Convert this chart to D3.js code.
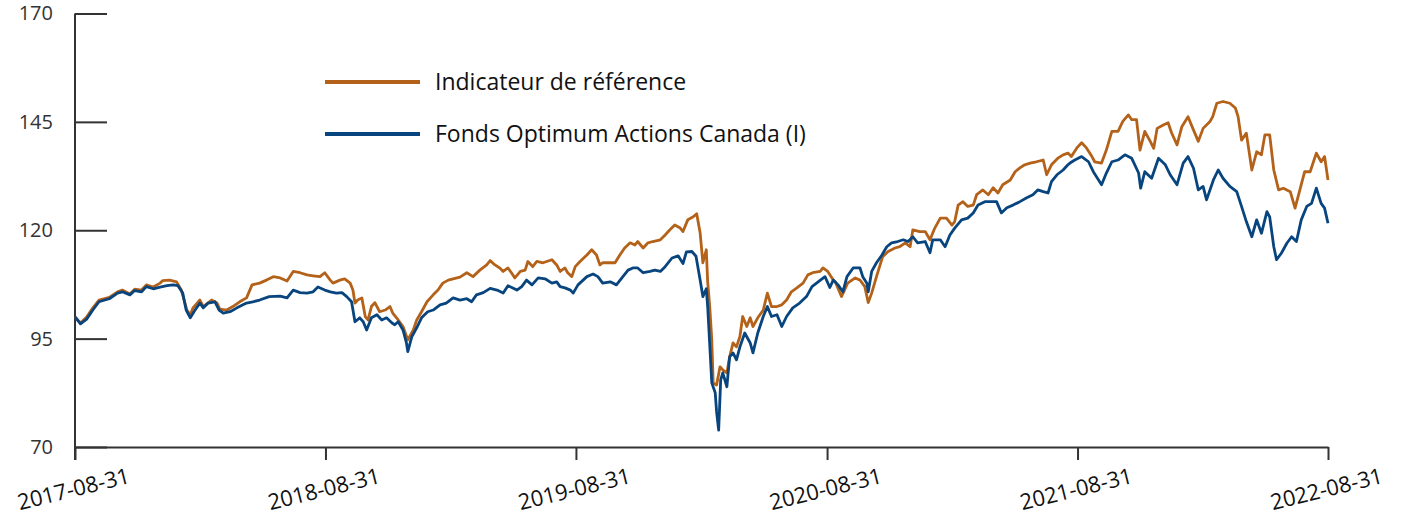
<!DOCTYPE html>
<html>
<head>
<meta charset="utf-8">
<script src="https://cdn.jsdelivr.net/npm/d3@7"></script>
<style>
  body { margin: 0; background: #fff; }
</style>
</head>
<body>
<div id="chart"></div>
<script>
const seriesNames = ["Indicateur de référence", "Fonds Optimum Actions Canada (I)"];

// benchmark index, growth of 100
const benchmark = [
  ["2017-08-31",100.0],["2017-09-08",98.6],["2017-09-17",100.0],["2017-09-26",102.1],["2017-10-05",103.9],
  ["2017-10-20",104.5],["2017-11-01",105.8],["2017-11-08",106.2],["2017-11-19",105.3],["2017-11-26",106.4],
  ["2017-12-06",106.2],["2017-12-13",107.4],["2017-12-23",106.9],["2018-01-02",107.8],["2018-01-06",108.4],
  ["2018-01-16",108.5],["2018-01-26",108.1],["2018-02-02",106.2],["2018-02-10",101.6],["2018-02-15",100.5],
  ["2018-02-19",102.1],["2018-03-01",103.9],["2018-03-06",102.4],["2018-03-18",103.9],["2018-03-26",103.2],
  ["2018-03-30",101.8],["2018-04-09",101.6],["2018-04-18",102.4],["2018-04-28",103.5],["2018-05-08",104.4],
  ["2018-05-16",107.4],["2018-05-27",107.8],["2018-06-06",108.5],["2018-06-16",109.3],["2018-06-26",109.0],
  ["2018-07-06",108.3],["2018-07-15",110.5],["2018-07-25",110.2],["2018-08-04",109.7],["2018-08-13",109.5],
  ["2018-08-23",109.3],["2018-08-30",110.2],["2018-09-07",108.5],["2018-09-11",107.8],["2018-09-21",108.5],
  ["2018-09-28",108.8],["2018-10-06",107.8],["2018-10-10",106.2],["2018-10-13",103.2],["2018-10-17",103.9],
  ["2018-10-23",104.4],["2018-10-28",100.1],["2018-11-01",99.3],["2018-11-06",102.4],["2018-11-11",103.3],
  ["2018-11-18",101.2],["2018-11-26",101.6],["2018-12-03",102.4],["2018-12-07",100.9],["2018-12-15",99.3],
  ["2018-12-22",97.8],["2018-12-29",94.7],["2019-01-06",97.0],["2019-01-11",99.3],["2019-01-18",101.2],
  ["2019-01-26",103.5],["2019-02-04",105.1],["2019-02-11",106.2],["2019-02-18",107.8],["2019-02-26",108.5],
  ["2019-03-05",108.8],["2019-03-15",109.2],["2019-03-25",110.2],["2019-04-03",109.3],["2019-04-13",110.8],
  ["2019-04-23",112.0],["2019-04-28",113.0],["2019-05-05",112.0],["2019-05-12",111.3],["2019-05-17",110.5],
  ["2019-05-24",111.3],["2019-05-29",110.2],["2019-06-03",109.0],["2019-06-11",110.5],["2019-06-18",110.8],
  ["2019-06-22",112.8],["2019-06-29",111.6],["2019-07-05",112.8],["2019-07-14",112.5],["2019-07-27",113.2],
  ["2019-08-03",112.0],["2019-08-08",110.5],["2019-08-15",111.3],["2019-08-19",110.2],["2019-08-25",109.3],
  ["2019-08-30",111.6],["2019-09-06",112.8],["2019-09-16",114.3],["2019-09-23",115.5],["2019-09-30",114.3],
  ["2019-10-05",112.0],["2019-10-09",112.5],["2019-10-17",112.5],["2019-10-27",112.5],["2019-11-03",114.3],
  ["2019-11-10",115.9],["2019-11-18",117.1],["2019-11-25",116.6],["2019-11-29",117.4],["2019-12-07",115.9],
  ["2019-12-14",117.1],["2019-12-21",117.4],["2020-01-01",117.8],["2020-01-08",118.9],["2020-01-15",120.1],
  ["2020-01-22",121.2],["2020-01-30",120.5],["2020-02-03",119.7],["2020-02-10",122.4],["2020-02-18",123.1],
  ["2020-02-23",123.8],["2020-02-28",119.4],["2020-03-03",112.5],["2020-03-08",115.5],["2020-03-10",108.1],
  ["2020-03-13",102.4],["2020-03-16",94.7],["2020-03-18",84.8],["2020-03-23",84.3],["2020-03-28",88.5],
  ["2020-04-01",87.8],["2020-04-07",87.1],["2020-04-11",90.8],["2020-04-16",94.0],["2020-04-21",93.1],
  ["2020-04-26",95.5],["2020-04-30",100.1],["2020-05-06",97.8],["2020-05-11",99.8],["2020-05-15",97.8],
  ["2020-05-22",99.8],["2020-05-30",101.6],["2020-06-05",105.5],["2020-06-11",102.4],["2020-06-19",102.4],
  ["2020-06-26",102.8],["2020-07-03",103.9],["2020-07-10",105.8],["2020-07-18",106.7],["2020-07-27",107.8],
  ["2020-08-03",109.7],["2020-08-10",110.2],["2020-08-21",110.5],["2020-08-25",111.3],["2020-09-01",110.5],
  ["2020-09-09",108.5],["2020-09-12",108.1],["2020-09-21",104.7],["2020-09-30",107.8],["2020-10-11",109.0],
  ["2020-10-18",108.5],["2020-10-25",107.0],["2020-10-30",103.3],["2020-11-04",105.5],["2020-11-11",109.3],
  ["2020-11-20",113.9],["2020-11-28",115.1],["2020-12-08",115.9],["2020-12-15",116.2],["2020-12-23",117.1],
  ["2020-12-30",116.2],["2021-01-03",120.1],["2021-01-13",119.7],["2021-01-21",119.7],["2021-01-28",117.8],
  ["2021-02-04",120.5],["2021-02-12",122.8],["2021-02-21",122.8],["2021-03-01",121.2],["2021-03-05",122.0],
  ["2021-03-10",125.8],["2021-03-17",126.6],["2021-03-24",125.5],["2021-04-01",125.8],["2021-04-06",128.2],
  ["2021-04-15",129.3],["2021-04-23",128.2],["2021-04-30",129.8],["2021-05-07",128.6],["2021-05-14",130.5],
  ["2021-05-25",131.6],["2021-06-01",133.5],["2021-06-08",134.4],["2021-06-15",135.1],["2021-06-23",135.5],
  ["2021-07-02",135.8],["2021-07-12",136.2],["2021-07-17",132.8],["2021-07-24",135.1],["2021-08-03",136.7],
  ["2021-08-10",137.4],["2021-08-17",137.8],["2021-08-22",137.0],["2021-08-30",139.0],["2021-09-06",140.2],
  ["2021-09-13",139.0],["2021-09-21",137.0],["2021-09-25",135.8],["2021-10-05",135.5],["2021-10-12",138.5],
  ["2021-10-20",142.8],["2021-10-29",142.8],["2021-11-05",145.1],["2021-11-13",146.6],["2021-11-18",145.5],
  ["2021-11-25",145.5],["2021-11-30",138.5],["2021-12-07",142.8],["2021-12-15",140.5],["2021-12-20",138.9],
  ["2021-12-25",143.5],["2022-01-03",144.3],["2022-01-10",144.8],["2022-01-15",142.5],["2022-01-23",139.7],
  ["2022-01-30",143.9],["2022-02-08",146.2],["2022-02-15",143.5],["2022-02-23",140.5],["2022-03-02",143.5],
  ["2022-03-12",145.1],["2022-03-16",146.2],["2022-03-22",149.3],["2022-03-31",149.7],["2022-04-10",149.3],
  ["2022-04-18",148.2],["2022-04-22",146.2],["2022-04-27",140.8],["2022-05-04",142.4],["2022-05-12",133.9],
  ["2022-05-19",138.1],["2022-05-26",137.4],["2022-05-31",142.0],["2022-06-07",142.0],["2022-06-13",133.9],
  ["2022-06-20",129.3],["2022-06-27",129.7],["2022-07-07",128.9],["2022-07-14",125.1],["2022-07-21",129.3],
  ["2022-07-28",133.5],["2022-08-05",133.5],["2022-08-14",137.8],["2022-08-21",135.8],["2022-08-26",137.0],
  ["2022-08-31",131.6]
];

// fund, growth of 100
const fund = [
  ["2017-08-31",100.0],["2017-09-08",98.4],["2017-09-17",99.5],["2017-09-26",101.6],["2017-10-05",103.5],
  ["2017-10-20",104.2],["2017-11-01",105.5],["2017-11-08",105.8],["2017-11-19",105.1],["2017-11-26",106.1],
  ["2017-12-06",105.8],["2017-12-13",107.0],["2017-12-23",106.5],["2018-01-02",106.9],["2018-01-12",107.2],
  ["2018-01-21",107.4],["2018-01-28",107.2],["2018-02-04",105.5],["2018-02-09",101.6],["2018-02-15",99.8],
  ["2018-02-22",101.6],["2018-03-01",103.2],["2018-03-06",102.1],["2018-03-13",103.2],["2018-03-23",103.5],
  ["2018-03-29",101.6],["2018-04-04",100.9],["2018-04-14",101.2],["2018-04-24",102.1],["2018-05-08",103.2],
  ["2018-05-17",103.5],["2018-05-27",103.9],["2018-06-10",104.7],["2018-06-26",104.8],["2018-07-06",104.4],
  ["2018-07-15",106.2],["2018-07-25",105.6],["2018-08-04",105.5],["2018-08-13",105.8],["2018-08-20",106.9],
  ["2018-08-30",106.2],["2018-09-07",105.8],["2018-09-16",105.5],["2018-09-24",105.6],["2018-10-01",104.7],
  ["2018-10-08",103.5],["2018-10-13",98.9],["2018-10-20",99.8],["2018-10-25",98.9],["2018-10-30",97.0],
  ["2018-11-06",99.8],["2018-11-14",100.5],["2018-11-21",99.3],["2018-11-28",99.8],["2018-12-06",98.6],
  ["2018-12-10",98.2],["2018-12-15",98.9],["2018-12-22",97.0],["2018-12-27",94.0],["2018-12-29",92.0],
  ["2019-01-04",95.5],["2019-01-11",97.5],["2019-01-18",99.8],["2019-01-27",101.2],["2019-02-04",101.6],
  ["2019-02-14",102.8],["2019-02-23",103.2],["2019-03-05",104.4],["2019-03-15",103.9],["2019-03-25",104.2],
  ["2019-04-01",103.5],["2019-04-08",105.1],["2019-04-18",105.6],["2019-04-28",106.6],["2019-05-08",106.2],
  ["2019-05-17",105.5],["2019-05-24",107.2],["2019-05-31",106.7],["2019-06-06",106.2],["2019-06-13",107.0],
  ["2019-06-20",108.5],["2019-06-28",107.4],["2019-07-07",109.0],["2019-07-17",108.8],["2019-07-27",107.8],
  ["2019-08-03",108.1],["2019-08-08",107.0],["2019-08-15",106.7],["2019-08-23",106.2],["2019-08-27",105.5],
  ["2019-09-03",107.4],["2019-09-16",109.3],["2019-09-25",109.9],["2019-10-02",109.3],["2019-10-09",107.8],
  ["2019-10-20",108.1],["2019-10-29",107.4],["2019-11-06",109.0],["2019-11-15",110.8],["2019-11-22",111.3],
  ["2019-11-29",111.3],["2019-12-07",110.2],["2019-12-17",110.5],["2019-12-24",110.8],["2020-01-01",110.5],
  ["2020-01-08",111.6],["2020-01-18",113.6],["2020-01-27",114.1],["2020-02-03",112.3],["2020-02-08",115.0],
  ["2020-02-16",115.1],["2020-02-22",114.0],["2020-02-28",108.5],["2020-03-03",104.7],["2020-03-08",106.5],
  ["2020-03-10",102.4],["2020-03-16",84.8],["2020-03-21",82.5],["2020-03-23",78.1],["2020-03-26",73.9],
  ["2020-03-29",85.5],["2020-04-01",87.1],["2020-04-07",83.9],["2020-04-11",90.8],["2020-04-16",91.7],
  ["2020-04-21",90.1],["2020-04-26",93.1],["2020-05-03",96.3],["2020-05-11",94.0],["2020-05-15",91.7],
  ["2020-05-22",96.3],["2020-05-30",100.1],["2020-06-05",102.4],["2020-06-11",100.1],["2020-06-19",100.5],
  ["2020-06-26",97.8],["2020-07-03",100.1],["2020-07-12",102.1],["2020-07-22",103.2],["2020-08-01",104.7],
  ["2020-08-09",107.0],["2020-08-18",108.1],["2020-08-28",109.3],["2020-09-04",106.8],["2020-09-09",108.5],
  ["2020-09-16",107.4],["2020-09-23",105.8],["2020-09-29",109.3],["2020-10-08",111.3],["2020-10-18",111.3],
  ["2020-10-22",109.3],["2020-10-28",107.8],["2020-10-30",105.8],["2020-11-04",110.5],["2020-11-11",112.5],
  ["2020-11-19",114.3],["2020-11-26",116.2],["2020-12-03",117.1],["2020-12-12",117.4],["2020-12-20",117.8],
  ["2020-12-27",117.4],["2021-01-03",118.5],["2021-01-10",117.1],["2021-01-21",117.4],["2021-01-28",114.8],
  ["2021-02-01",117.8],["2021-02-12",117.8],["2021-02-19",116.2],["2021-02-26",118.9],["2021-03-05",120.5],
  ["2021-03-15",122.4],["2021-03-24",122.8],["2021-04-01",124.0],["2021-04-08",125.8],["2021-04-18",126.6],
  ["2021-04-25",126.6],["2021-05-05",126.6],["2021-05-12",124.0],["2021-05-20",125.2],["2021-05-29",125.8],
  ["2021-06-08",126.6],["2021-06-18",127.5],["2021-06-27",128.2],["2021-07-04",129.3],["2021-07-12",128.9],
  ["2021-07-19",128.6],["2021-07-24",131.2],["2021-08-01",132.8],["2021-08-10",133.9],["2021-08-17",135.1],
  ["2021-08-20",135.5],["2021-08-27",136.2],["2021-09-06",137.0],["2021-09-16",135.8],["2021-09-23",133.5],
  ["2021-10-05",130.5],["2021-10-12",133.2],["2021-10-20",135.8],["2021-10-29",136.2],["2021-11-08",137.4],
  ["2021-11-18",136.6],["2021-11-28",133.2],["2021-12-01",129.7],["2021-12-07",133.5],["2021-12-17",132.0],
  ["2021-12-27",136.6],["2022-01-06",135.1],["2022-01-13",132.8],["2022-01-23",130.5],["2022-02-01",135.5],
  ["2022-02-08",137.0],["2022-02-16",134.3],["2022-02-23",129.3],["2022-03-02",130.1],["2022-03-07",127.0],
  ["2022-03-17",131.6],["2022-03-24",133.9],["2022-03-31",132.0],["2022-04-10",130.1],["2022-04-20",128.9],
  ["2022-04-27",125.5],["2022-05-04",122.0],["2022-05-12",118.5],["2022-05-19",122.4],["2022-05-26",119.3],
  ["2022-06-03",124.3],["2022-06-07",123.1],["2022-06-13",116.2],["2022-06-17",113.2],["2022-06-24",114.7],
  ["2022-07-02",117.0],["2022-07-09",118.5],["2022-07-16",117.4],["2022-07-23",122.4],["2022-07-31",125.5],
  ["2022-08-07",126.2],["2022-08-14",129.7],["2022-08-21",126.2],["2022-08-26",125.1],["2022-08-31",121.6]
];

const yTicks = [70, 95, 120, 145, 170];
const xTicks = ["2017-08-31", "2018-08-31", "2019-08-31", "2020-08-31", "2021-08-31", "2022-08-31"];

const width = 1406;
const height = 519;
const margin = { top: 13.5, right: 78, bottom: 72, left: 75 };
const font = "'Open Sans', 'Liberation Sans', Arial, sans-serif";
const axisColor = "#333";
const colors = ["#b4621a", "#08457e"];

const parse = d3.timeParse("%Y-%m-%d");
const fmt = d3.timeFormat("%Y-%m-%d");

const series = [benchmark, fund].map((rows, i) => ({
  name: seriesNames[i],
  color: colors[i],
  values: rows.map(([d, v]) => ({ date: parse(d), value: v }))
}));

const svg = d3.select("#chart")
  .append("svg")
  .attr("width", width)
  .attr("height", height)
  .style("font-family", font);

const x = d3.scaleTime()
  .domain([parse(xTicks[0]), parse(xTicks[xTicks.length - 1])])
  .range([margin.left, width - margin.right]);

const y = d3.scaleLinear()
  .domain([70, 170])
  .range([height - margin.bottom, margin.top]);

// y axis, ticks point inward
svg.append("g")
  .attr("transform", `translate(${margin.left},0)`)
  .call(d3.axisLeft(y).tickValues(yTicks).tickSize(-32).tickPadding(22).tickSizeOuter(0))
  .call(g => g.select(".domain").remove())
  .call(g => g.selectAll("line").attr("stroke", axisColor).attr("stroke-width", 2))
  .call(g => g.selectAll("text")
    .attr("fill", axisColor)
    .style("font-size", "20px")
    .style("font-family", font));

svg.append("line")
  .attr("x1", margin.left).attr("x2", margin.left)
  .attr("y1", y(170)).attr("y2", y(70) + 13)
  .attr("stroke", axisColor)
  .attr("stroke-width", 2);

// x axis with slanted dates
svg.append("g")
  .attr("transform", `translate(0,${y(70)})`)
  .call(d3.axisBottom(x).tickValues(xTicks.map(parse)).tickFormat(fmt).tickSize(13).tickSizeOuter(0))
  .call(g => g.select(".domain").attr("stroke", axisColor).attr("stroke-width", 2))
  .call(g => g.selectAll("line").attr("stroke", axisColor).attr("stroke-width", 2))
  .call(g => g.selectAll("text")
    .attr("fill", "#111")
    .attr("y", 0)
    .attr("dy", "0.35em")
    .attr("text-anchor", "middle")
    .attr("transform", "translate(-2,42) rotate(-14)")
    .style("font-size", "22px")
    .style("font-family", font));

const line = d3.line()
  .x(d => x(d.date))
  .y(d => y(d.value));

svg.append("g")
  .selectAll("path")
  .data(series)
  .join("path")
  .attr("fill", "none")
  .attr("stroke", d => d.color)
  .attr("stroke-width", 2.8)
  .attr("stroke-linejoin", "round")
  .attr("d", d => line(d.values));

// legend
const legend = svg.append("g")
  .selectAll("g")
  .data(series)
  .join("g")
  .attr("transform", (d, i) => `translate(325,${82 + i * 52})`);

legend.append("line")
  .attr("x1", 0).attr("x2", 95)
  .attr("stroke", d => d.color)
  .attr("stroke-width", 4);

legend.append("text")
  .attr("x", 110)
  .attr("dy", "0.35em")
  .attr("fill", "#111")
  .style("font-size", "23px")
  .text(d => d.name);
</script>
</body>
</html>
